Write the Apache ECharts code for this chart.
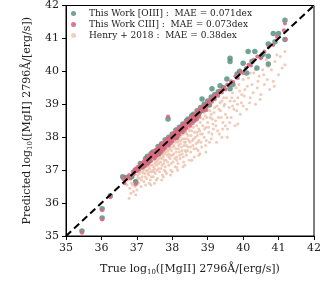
<!DOCTYPE html>
<html><head><meta charset="utf-8">
<script src="https://cdn.jsdelivr.net/npm/echarts@6/dist/echarts.min.js"></script>
<style>html,body{margin:0;padding:0;background:#fff}#c{width:331px;height:286px}</style>
</head><body><div id="c"></div>
<script>
const xTicks = [35,36,37,38,39,40,41,42];
const yTicks = [35,36,37,38,39,40,41,42];
const seriesNames = ['This Work [OIII] :  MAE = 0.071dex','This Work CIII] :  MAE = 0.073dex','Henry + 2018 :  MAE = 0.38dex'];
const identityLine = [[35,35],[42,42]];

const oiiiPoints = [
[35.45,35.15],[36.02,35.83],[36.02,35.55],[36.25,36.22],[36.6,36.8],[36.7,36.78],[36.85,36.8],[36.97,36.65],[36.95,37.0],[37.05,37.05],
[37.1,37.2],[37.2,37.15],[37.25,37.35],[37.3,37.42],[37.35,37.3],[37.4,37.5],[37.45,37.55],[37.5,37.45],[37.55,37.6],[37.6,37.72],
[37.65,37.6],[37.7,37.8],[37.75,37.7],[37.8,37.92],[37.85,37.8],[37.9,38.0],[37.88,38.55],[37.95,37.95],[38.0,38.1],[38.05,38.0],
[38.1,38.22],[38.15,38.12],[38.2,38.3],[38.25,38.2],[38.3,38.4],[38.35,38.3],[38.4,38.5],[38.45,38.55],[38.5,38.48],[38.55,38.65],
[38.6,38.7],[38.65,38.6],[38.7,38.8],[38.75,38.72],[38.8,38.9],[38.85,38.82],[38.9,39.0],[38.95,38.95],[39.0,39.1],[39.1,39.22],
[38.84,39.16],[39.12,39.47],[39.2,39.3],[39.3,39.38],[39.35,39.56],[39.45,39.5],[39.54,39.77],[39.63,39.47],[39.71,39.6],[39.63,40.4],
[39.63,40.3],[39.83,39.92],[40.0,40.25],[40.1,39.95],[39.9,40.0],[40.14,40.6],[40.33,40.6],[40.39,40.1],[40.25,40.3],[40.56,40.52],
[40.71,40.83],[40.71,40.46],[40.71,40.22],[40.85,41.15],[41.0,41.15],[41.18,41.55],[41.18,40.97],[40.5,40.45],[40.9,40.9],[37.15,37.1],
[37.62,37.5],[38.12,38.0],[38.62,38.52],[39.05,38.98],[37.32,37.25]
];

const ciiiPoints = [
[35.45,35.1],[36.02,35.5],[36.02,35.78],[36.25,36.18],[36.97,36.57],[37.88,38.63],
[36.62,36.72],[36.65,36.6],[36.7,36.78],[36.78,36.85],[36.82,36.75],[36.88,36.95],[36.92,36.88],[36.97,37.05],[37.0,36.97],[37.03,37.1],
[37.06,37.02],[37.1,37.18],[37.12,37.08],[37.15,37.22],[37.18,37.15],[37.2,37.28],[37.23,37.2],[37.26,37.33],[37.28,37.25],[37.31,37.4],
[37.33,37.3],[37.36,37.44],[37.38,37.36],[37.41,37.5],[37.43,37.4],[37.46,37.53],[37.48,37.45],[37.5,37.58],[37.53,37.5],[37.55,37.62],
[37.58,37.55],[37.6,37.68],[37.63,37.6],[37.65,37.72],[37.68,37.65],[37.7,37.78],[37.73,37.7],[37.75,37.82],[37.78,37.75],[37.8,37.88],
[37.83,37.8],[37.85,37.93],[37.88,37.85],[37.9,37.97],[37.93,37.9],[37.95,38.03],[37.98,37.95],[38.0,38.08],[38.03,38.0],[38.05,38.12],
[38.08,38.05],[38.1,38.18],[38.13,38.1],[38.15,38.22],[38.18,38.15],[38.2,38.27],[38.23,38.2],[38.25,38.33],[38.28,38.25],[38.3,38.38],
[38.33,38.3],[38.36,38.43],[38.4,38.36],[38.43,38.5],[38.46,38.42],[38.5,38.57],[38.53,38.5],[38.56,38.63],[38.6,38.56],[38.63,38.7],
[38.66,38.62],[38.7,38.78],[38.73,38.7],[38.77,38.84],[38.8,38.76],[38.84,38.92],[38.88,38.85],[38.92,38.98],[38.95,38.9],[39.0,39.07],
[39.04,39.0],[39.08,39.15],[39.12,39.08],[39.16,39.24],[39.2,39.15],[39.25,39.3],[39.3,39.26],[39.35,39.42],[39.4,39.36],[39.45,39.5],
[39.5,39.45],[39.55,39.6],[39.6,39.57],[39.66,39.7],[39.72,39.68],[39.78,39.85],[39.85,39.8],[39.92,39.98],[40.0,39.95],[40.08,40.1],
[40.15,40.2],[40.22,40.18],[40.3,40.35],[40.4,40.45],[40.5,40.4],[40.6,40.6],[40.72,40.75],[40.85,40.8],[40.95,41.05],[41.15,41.25],
[41.2,40.98],[41.18,41.45],[37.5,37.35],[37.7,37.55],[37.9,37.75],[38.1,37.95],[38.3,38.15],[37.4,37.28],[38.5,38.35],[38.7,38.55],
[37.22,37.12],[37.6,37.48],[37.8,37.68],[38.0,37.88],[38.2,38.08],[38.4,38.28],[38.6,38.48],
[37.02,37.0],[37.14,37.14],[37.24,37.24],[37.34,37.36],[37.44,37.44],[37.54,37.56],[37.64,37.64],[37.74,37.76],[37.84,37.84],[37.94,37.96],
[38.04,38.04],[38.14,38.16],[38.24,38.24],[38.34,38.36],[38.44,38.44],[38.54,38.56],[38.64,38.64],[38.74,38.76],[38.86,38.86],[38.98,38.96],
[37.3,37.18],[37.55,37.42],[37.75,37.62],[37.95,37.82],[38.15,38.02],[38.35,38.22],[38.55,38.42],[38.75,38.62],[38.95,38.82]
];

const henryPoints = [
[36.72,36.55],[36.78,36.15],[36.8,36.45],[36.85,36.6],[36.9,36.35],[36.95,36.5],[36.98,36.7],[36.75,36.7],[36.9,36.8],[37.0,36.4],
[37.02,36.85],[37.05,36.6],[37.08,36.75],[37.1,36.95],[37.12,36.5],[37.15,36.8],[37.18,37.0],[37.2,36.65],[37.22,36.9],[37.25,37.1],
[37.28,36.75],[37.3,37.0],[37.05,36.95],[37.15,37.05],[37.25,36.55],
[37.32,37.2],[37.34,36.85],[37.36,37.05],[37.38,36.7],[37.4,37.25],[37.42,36.95],[37.44,37.15],[37.46,36.8],[37.48,37.3],[37.5,37.05],
[37.52,36.9],[37.54,37.35],[37.56,37.15],[37.58,36.75],[37.6,37.45],[37.35,37.28],[37.45,37.0],[37.55,37.25],[37.5,36.6],[37.4,36.55],
[37.62,37.2],[37.64,36.95],[37.66,37.5],[37.68,37.05],[37.7,37.35],[37.72,36.85],[37.74,37.55],[37.76,37.2],[37.78,37.0],[37.8,37.6],
[37.82,37.3],[37.84,36.9],[37.86,37.45],[37.88,37.7],[37.9,37.15],[37.65,37.4],[37.75,37.4],[37.85,37.65],[37.7,36.7],[37.8,37.1],
[37.9,37.5],[37.62,37.55],[37.72,37.62],
[37.92,37.8],[37.94,37.35],[37.96,37.0],[37.98,37.6],[38.0,37.85],[38.02,37.25],[38.04,37.5],[38.06,37.9],[38.08,37.1],[38.1,37.65],
[38.12,37.4],[38.14,37.95],[38.16,37.2],[38.18,37.75],[38.2,37.55],[37.95,37.7],[38.05,37.75],[38.15,37.85],[38.0,36.95],[38.13,37.08],
[38.2,38.0],[37.97,37.45],
[38.22,37.35],[38.24,38.05],[38.26,37.7],[38.28,37.5],[38.3,38.1],[38.32,37.25],[38.34,37.85],[38.36,37.6],[38.38,38.15],[38.4,37.45],
[38.42,37.95],[38.44,37.7],[38.46,38.25],[38.48,37.3],[38.5,37.85],[38.25,37.9],[38.35,37.95],[38.45,38.05],[38.3,37.1],[38.4,37.75],
[38.5,38.3],
[38.52,37.55],[38.55,38.2],[38.58,37.75],[38.6,38.4],[38.62,37.4],[38.65,38.0],[38.68,37.65],[38.7,38.5],[38.72,37.85],[38.75,38.25],
[38.78,37.5],[38.8,38.6],[38.6,37.95],[38.7,38.15],[38.55,38.45],[38.65,38.55],[38.75,37.9],[38.8,38.1],
[38.83,37.7],[38.86,38.35],[38.9,38.0],[38.93,38.65],[38.96,37.9],[39.0,38.45],[39.03,38.15],[39.06,38.8],[39.1,37.95],[39.13,38.55],
[39.16,38.25],[39.2,38.9],[38.9,38.75],[39.0,38.85],[39.1,38.7],[38.95,38.3],[39.15,38.4],[39.05,37.85],
[39.23,38.35],[39.26,38.95],[39.3,38.6],[39.33,38.1],[39.36,38.8],[39.4,39.1],[39.43,38.45],[39.46,38.95],[39.5,38.7],[39.53,39.2],
[39.56,38.25],[39.6,38.9],[39.35,39.05],[39.45,39.2],[39.5,38.35],[39.4,38.0],
[39.63,39.1],[39.66,38.6],[39.7,39.35],[39.74,38.85],[39.77,38.35],[39.8,39.5],[39.84,39.0],[39.88,39.6],[39.92,38.7],[39.96,39.3],
[40.0,39.75],[39.7,38.95],[39.85,39.2],[40.0,38.95],
[40.05,39.45],[40.1,38.85],[40.15,39.8],[40.2,39.2],[40.25,39.6],[40.3,39.95],[40.35,39.0],[40.4,39.5],[40.45,39.85],[40.5,39.3],
[40.2,39.95],[40.35,40.05],
[40.55,40.05],[40.6,39.6],[40.7,40.15],[40.75,39.45],[40.85,39.7],[40.9,40.3],[41.0,39.9],[41.05,40.45],[41.18,40.2],[41.18,40.6],
[40.65,40.35],[40.95,40.5],
[37.03,36.78],[37.07,36.88],[37.13,36.7],[37.17,36.92],[37.21,37.05],[37.24,36.8],[37.27,36.98],[37.31,36.9],[37.33,37.1],[37.37,36.95],
[37.39,37.15],[37.41,36.8],[37.43,37.3],[37.47,37.1],[37.49,36.95],[37.51,37.2],[37.53,37.4],[37.57,37.0],[37.59,37.3],[37.61,37.05],
[37.63,37.35],[37.67,37.25],[37.69,37.6],[37.71,37.15],[37.73,37.45],[37.77,37.3],[37.79,37.5],[37.81,36.95],[37.83,37.55],[37.87,37.25],
[37.89,37.6],[37.91,37.4],[37.93,37.65],[37.97,37.2],[37.99,37.8],[38.01,37.45],[38.03,37.7],[38.07,37.35],[38.09,37.85],[38.11,37.55],
[38.13,37.3],[38.17,37.65],[38.19,37.9],[38.21,37.45],[38.23,37.8],[38.27,37.6],[38.29,37.95],[38.31,37.4],[38.33,37.75],[38.37,37.85],
[38.39,37.55],[38.41,38.1],[38.43,37.6],[38.47,37.9],[38.49,38.2],[38.51,37.7],[38.53,38.05],[38.57,37.9],[38.59,38.3],[38.61,37.65],
[38.63,38.15],[38.67,37.8],[38.69,38.35],[38.71,38.05],[38.73,37.6],[38.77,38.2],[38.79,38.45],[38.81,37.85],[38.85,38.1],[38.87,38.55],
[38.91,38.25],[38.94,37.75],[38.97,38.6],[39.02,38.3],[39.07,38.6],[39.12,38.1],[39.18,38.75],[39.22,38.5],[39.28,38.2],[39.32,38.85],
[39.38,38.6],[39.42,38.25],[39.48,39.0],[39.55,38.6],[39.62,38.45],[39.68,39.2],[39.75,39.1],[39.82,38.8],[39.9,39.4],[39.95,39.05],
[40.03,39.25],[40.12,39.55],[40.18,39.05],[40.28,39.35],[40.42,39.7],[40.48,39.15],[40.58,39.9],[40.68,39.75],[40.8,40.05],[40.88,39.55],
[41.1,40.1],[36.83,36.3],[36.88,36.55],[36.93,36.68],[36.97,36.25],[37.35,36.6],[37.55,36.7],[37.75,36.8],[37.95,36.85],[38.15,37.0],
[38.35,37.15],[38.55,37.3],[38.75,37.45],[38.95,37.55],[39.25,37.85],[39.55,38.0],[39.85,38.4],[37.58,37.45],[37.78,37.65],[37.98,37.85],
[38.18,38.05],[38.38,38.25],[38.58,38.45],[38.78,38.65],[38.98,38.82]
];

const FONT = 'DejaVu Serif';
const chart = echarts.init(document.getElementById('c'), null, {renderer:'canvas'});
chart.setOption({
  animation:false,
  backgroundColor:'#fff',
  grid:{left:66,right:17,top:4,bottom:50,show:true,borderColor:'#000',borderWidth:1,backgroundColor:'transparent'},
  legend:{
    orient:'vertical',left:71,top:9,padding:0,itemGap:2,itemWidth:21,itemHeight:5,
    textStyle:{fontFamily:FONT,fontSize:9,color:'#222'},
    data:[
      {name:seriesNames[0],icon:'circle',itemStyle:{color:'#4f8a7b'}},
      {name:seriesNames[1],icon:'circle',itemStyle:{color:'#d9687f'}},
      {name:seriesNames[2],icon:'circle',itemStyle:{color:'#efc6b2'}}
    ]
  },
  xAxis:{type:'value',min:35,max:42,interval:1,
    axisLine:{show:true,lineStyle:{color:'#000'}},
    axisTick:{show:true,inside:false,length:4,lineStyle:{color:'#000'}},
    splitLine:{show:false},
    axisLabel:{fontFamily:FONT,fontSize:11,color:'#222',margin:7,formatter:v=>xTicks.includes(v)?String(v):''},
    name:'True log{sub|10}([MgII] 2796Å/[erg/s])',nameLocation:'middle',nameGap:26,
    nameTextStyle:{fontFamily:FONT,fontSize:11,color:'#222',rich:{sub:{fontFamily:FONT,fontSize:7,color:'#222',padding:[7,0,0,0]}}}
  },
  yAxis:{type:'value',min:35,max:42,interval:1,
    axisLine:{show:true,lineStyle:{color:'#000'}},
    axisTick:{show:true,inside:false,length:4,lineStyle:{color:'#000'}},
    splitLine:{show:false},
    axisLabel:{fontFamily:FONT,fontSize:11,color:'#222',margin:7,formatter:v=>yTicks.includes(v)?String(v):''},
    name:'Predicted log{sub|10}([MgII] 2796Å/[erg/s])',nameLocation:'middle',nameGap:24,nameRotate:90,
    nameTextStyle:{fontFamily:FONT,fontSize:11,color:'#222',rich:{sub:{fontFamily:FONT,fontSize:7,color:'#222',padding:[7,0,0,0]}}}
  },
  series:[
    {name:seriesNames[2],type:'scatter',data:henryPoints,symbolSize:3,itemStyle:{color:'#efc2ad',opacity:0.85},z:2},
    {name:seriesNames[0],type:'scatter',data:oiiiPoints,symbolSize:5.5,itemStyle:{color:'#4f8a7b'},z:3},
    {name:seriesNames[1],type:'scatter',data:ciiiPoints,symbolSize:4,itemStyle:{color:'#d9687f',opacity:0.9},z:4},
    {type:'line',data:identityLine,symbol:'none',silent:true,z:10,
      lineStyle:{color:'#000',width:2,type:[7,4]}}
  ]
});
</script></body></html>
